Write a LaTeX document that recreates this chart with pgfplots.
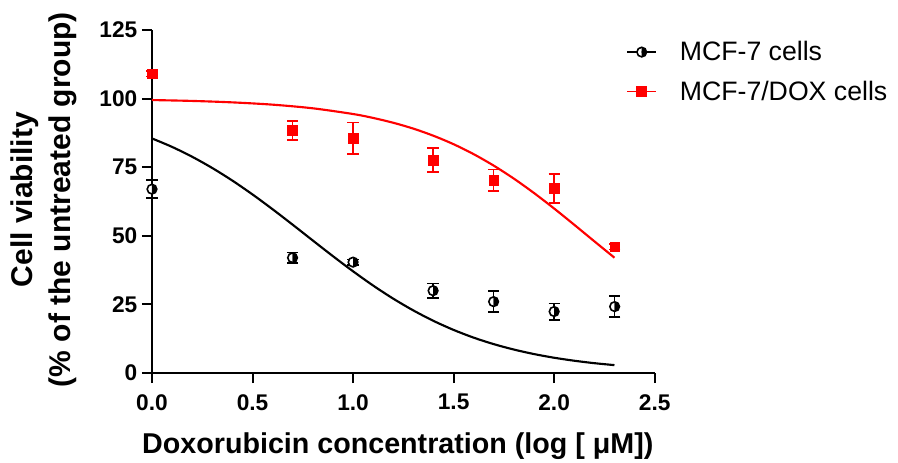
\documentclass[border=0pt]{standalone}
\usepackage{fontspec}
\setmainfont{Liberation Sans}
\usepackage{pgfplots}
\pgfplotsset{compat=1.18}
\usetikzlibrary{plotmarks}
\begin{document}
\begin{tikzpicture}
\useasboundingbox (-114pt,-67.5pt) rectangle (559.5pt,279.75pt);
\begin{axis}[
  scale only axis, width=377pt, height=257.25pt,
  xmin=0, xmax=2.5, ymin=0, ymax=125,
  axis x line*=bottom, axis y line*=left,
  axis line style={line width=1.5pt, black},
  xtick={0,0.5,1,1.5,2,2.5}, ytick={0,25,50,75,100,125},
  tick align=outside, major tick length=7.5pt,
  tick style={line width=1.5pt, black},
  clip=false,
  /pgf/number format/assume math mode=true,
  ticklabel style={font=\fontsize{17}{20}\selectfont\bfseries},
  xticklabel style={yshift=-5pt, /pgf/number format/.cd, fixed, fixed zerofill, precision=1},
  yticklabel style={/pgf/number format/.cd, fixed, precision=0},
  xlabel={Doxorubicin concentration (log [ μM])},
  ylabel={Cell viability\\(\% of the untreated group)},
  xlabel style={font=\fontsize{21.5}{24}\selectfont\bfseries, at={(axis description cs:0.489,0)}, anchor=base, yshift=-60pt},
  ylabel style={font=\fontsize{22.5}{28.5}\selectfont\bfseries, at={(axis description cs:-0.149,0.505)}, anchor=south, inner sep=0pt, align=center},
  legend style={at={(axis description cs:0.935,0.983)}, anchor=north west, draw=none, fill=none,
    font=\fontsize{20}{24}\selectfont, row sep=9.5pt, nodes={inner sep=2pt}, cells={anchor=west}},
  legend image code/.code={\draw[mark repeat=2,mark phase=2,#1] plot coordinates {(0pt,0pt) (11pt,0pt) (22pt,0pt)}; \path (37pt,0pt);},
]
% legend images
\addlegendimage{black, line width=1.2pt, mark=halfcircle*, mark size=3.6pt, mark options={rotate=90, fill=white, mark color=black, draw=black, line width=1.2pt}}
\addlegendentry{MCF-7 cells}
\addlegendimage{red, line width=1.2pt, mark=square*, mark size=3.6pt, mark options={fill=red, draw=red}}
\addlegendentry{MCF-7/DOX cells}

% fitted curves
\addplot[black, line width=1.6pt, smooth, forget plot] coordinates {
(0,85.48) (0.1,82.39) (0.2,78.79) (0.3,74.69) (0.4,70.10) (0.5,65.06) (0.6,59.66)
(0.7,54.02) (0.8,48.27) (0.9,42.57) (1.0,37.06) (1.1,31.86) (1.2,27.08) (1.3,22.79)
(1.4,18.99) (1.5,15.70) (1.6,12.88) (1.7,10.51) (1.8,8.54) (1.9,6.90) (2.0,5.56)
(2.1,4.47) (2.2,3.58) (2.3,2.87)};
\addplot[red, line width=1.6pt, smooth, forget plot] coordinates {
(0,99.47) (0.2,99.15) (0.4,98.62) (0.6,97.79) (0.8,96.46) (1.0,94.38) (1.1,92.95)
(1.2,91.19) (1.3,89.05) (1.4,86.45) (1.5,83.37) (1.6,79.74) (1.7,75.55) (1.8,70.82)
(1.9,65.58) (2.0,59.94) (2.1,54.02) (2.2,47.99) (2.3,42.02)};

% data points
\addplot[only marks, black, mark=halfcircle*, mark size=3.6pt,
  mark options={rotate=90, fill=white, mark color=black, draw=black, line width=1.2pt}, forget plot,
  error bars/.cd, y dir=both, y explicit,
  error bar style={line width=1.2pt, black},
  error mark options={rotate=90, mark size=4.2pt, line width=1.2pt, black}]
  coordinates {
  (0,67) +- (0,3.3)
  (0.699,42) +- (0,1.9)
  (1.0,40.4) +- (0,1.0)
  (1.398,30) +- (0,2.6)
  (1.699,26) +- (0,3.8)
  (2.0,22.4) +- (0,3.0)
  (2.301,24.2) +- (0,3.8)
  };
\addplot[only marks, red, mark=square*, mark size=3.6pt,
  mark options={fill=red, draw=red}, forget plot,
  error bars/.cd, y dir=both, y explicit,
  error bar style={line width=1.1pt, red},
  error mark options={rotate=90, mark size=4.2pt, line width=1.1pt, red}]
  coordinates {
  (0,109) +- (0,1.0)
  (0.699,88.4) +- (0,3.5)
  (1.0,85.5) +- (0,5.7)
  (1.398,77.6) +- (0,4.4)
  (1.699,70.3) +- (0,3.9)
  (2.0,67.3) +- (0,5.3)
  (2.301,46) +- (0,1.0)
  };
\end{axis}
\end{tikzpicture}
\end{document}
